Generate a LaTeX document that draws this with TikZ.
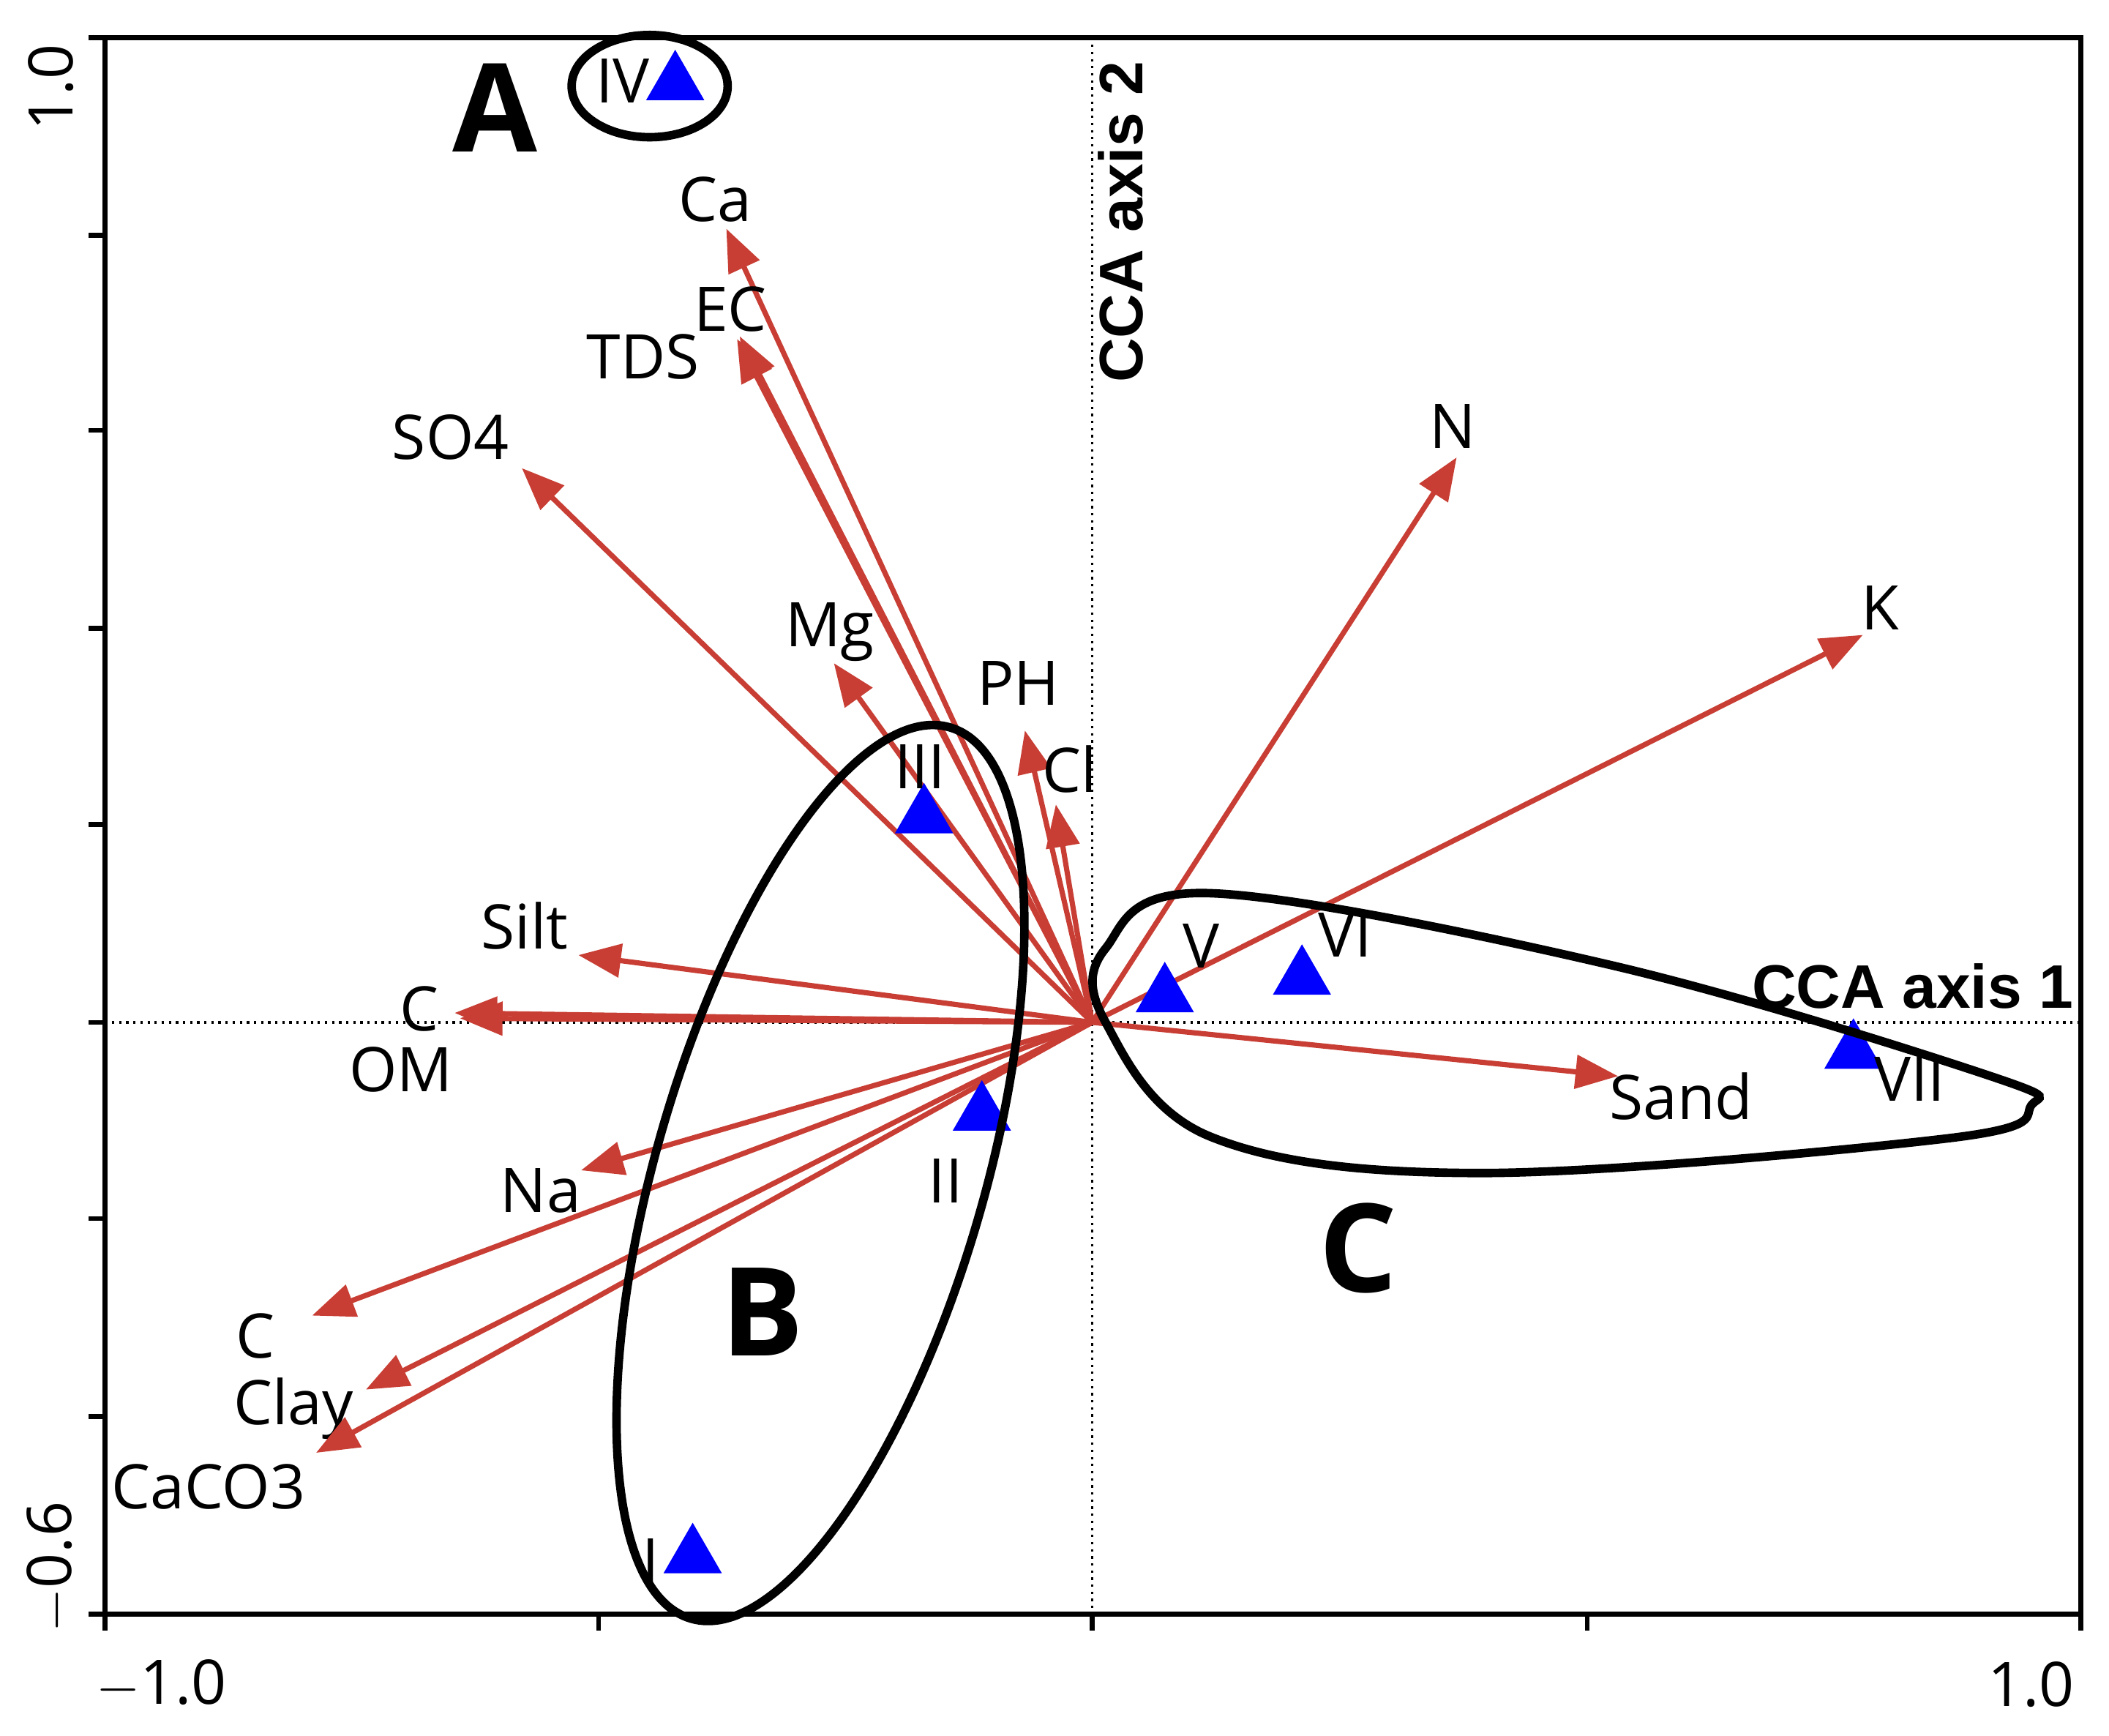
\documentclass[tikz,border=0pt]{standalone}
\usepackage{fontspec}
\setmainfont{Open Sans}
\newfontfamily\axisfont{Liberation Sans}
\usetikzlibrary{shapes.geometric,arrows.meta}
\definecolor{vecred}{RGB}{200,62,52}
\begin{document}
\begin{tikzpicture}[x=0.01cm,y=-0.01cm,
  vec/.style={vecred,line width=1.1pt,-{Triangle[length=9pt,width=7pt]}},
  lab/.style={font=\fontsize{13}{15}\selectfont,inner sep=1pt},
  site/.style={regular polygon,regular polygon sides=3,fill=blue,inner sep=0pt,minimum size=0.5cm},
  grp/.style={black,line width=1.8pt},
  big/.style={font=\fontsize{26}{28}\bfseries\selectfont}]
\useasboundingbox (0,0) rectangle (1568,1290);
% frame and axes
\draw[line width=1pt] (78,28) rectangle (1547,1200);
\coordinate (O) at (812,760);
\draw[densely dotted,line width=0.5pt] (78,760) -- (1547,760);
\draw[densely dotted,line width=0.5pt] (812,28) -- (812,1200);
\foreach \x in {78,445,812,1180,1547} \draw[line width=1pt] (\x,1200) -- (\x,1212);
\foreach \y in {28,175,320,467,613,760,906,1053,1200} \draw[line width=1pt] (78,\y) -- (66,\y);
\node[lab] (xmin) at (120,1252) {$-$1.0};
\node[lab] (xmax) at (1510,1252) {1.0};
\node[lab,rotate=90] (ymax) at (38,65) {1.0};
\node[lab,rotate=90] (ymin) at (38,1165) {$-$0.6};
\node[font=\axisfont\fontsize{13}{15}\bfseries\selectfont,rotate=90] (ax2) at (833,165) {CCA axis 2};
\node[font=\axisfont\fontsize{13}{15}\bfseries\selectfont] (ax1) at (1422,733) {CCA axis 1};
% environmental vectors
\foreach \n/\px/\py/\lx/\ly/\t in {
  Ca/540/170/532/148/Ca, EC/550/250/543/230/EC, TDS/548/252/478/265/TDS,
  SO/388/348/335/325/SO4, Mg/620/493/617/470/Mg, PH/762/543/757/508/PH,
  Cl/785/598/795/572/Cl, N/1083/340/1080/317/N, K/1385/472/1398/452/K,
  Silt/430/710/390/688/Silt, C/338/753/312/750/C, OM/342/757/298/795/OM,
  Sand/1203/800/1250/815/Sand, Na/432/870/402/885/Na, CN/232/978/190/993/C/N,
  Clay/272/1033/218/1047/Clay, CaCO/235/1080/155/1105/CaCO3} {
  \coordinate (\n) at (\px,\py);
  \draw[vec] (O) -- (\n);
  \node[lab] (l\n) at (\lx,\ly) {\t};
}
% sites
\foreach \n/\px/\py/\lx/\ly/\t in {
  IV/502/62/463/60/IV, III/687/607/684/570/III, II/730/828/703/878/II,
  I/515/1157/484/1160/I, V/866/740/893/703/V, VI/968/727/1000/695/VI,
  VII/1378/782/1420/802/VII} {
  \node[site] (s\n) at (\px,\py) {};
  \node[lab] (t\n) at (\lx,\ly) {\t};
}
% groups
\draw[grp] (483,64) ellipse [x radius=58, y radius=38];
\draw[grp,rotate around={73.8:(610,872)}] (610,872) ellipse [x radius=345, y radius=122];
\draw[grp] plot[smooth cycle,tension=0.6] coordinates {(822,705) (900,664) (1200,718) (1480,800) (1510,822) (1450,846) (1100,872) (900,845) (822,760)};
\node[big] (gA) at (368,80) {A};
\node[big] (gB) at (567,975) {B};
\node[big] (gC) at (1010,928) {C};
\end{tikzpicture}
\end{document}
